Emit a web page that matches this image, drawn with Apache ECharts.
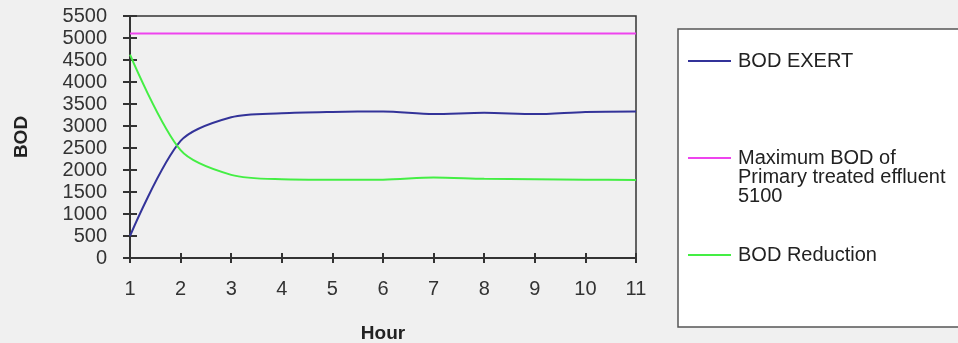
<!DOCTYPE html>
<html>
<head>
<meta charset="utf-8">
<script src="https://cdn.jsdelivr.net/npm/echarts@6/dist/echarts.min.js"></script>
<style>
html,body{margin:0;padding:0;background:#f0f0f0;}
#chart{width:958px;height:343px;}
</style>
</head>
<body>
<div id="chart"></div>
<script>
const hours = ['1','2','3','4','5','6','7','8','9','10','11'];
const bodExert = [500, 2660, 3200, 3290, 3320, 3330, 3270, 3300, 3270, 3320, 3330];
const maxBod = [5100, 5100, 5100, 5100, 5100, 5100, 5100, 5100, 5100, 5100, 5100];
const bodReduction = [4620, 2450, 1890, 1790, 1780, 1780, 1830, 1800, 1790, 1780, 1770];
const seriesNames = ['BOD EXERT', 'Maximum BOD of\nPrimary treated effluent\n5100', 'BOD Reduction'];
const yTicks = {min: 0, max: 5500, interval: 500};

const FONT = '"Liberation Sans", Arial, sans-serif';
const chart = echarts.init(document.getElementById('chart'), null, {renderer: 'canvas'});
const axisLineStyle = {color: '#333', width: 2};

chart.setOption({
  backgroundColor: '#f0f0f0',
  animation: false,
  grid: {left: 130, right: 322, top: 16, bottom: 85, containLabel: false, outerBoundsMode: 'none',
         show: true, borderColor: '#333', borderWidth: 1.5, backgroundColor: 'transparent'},
  legend: {
    orient: 'vertical',
    left: 678,
    top: 29,
    backgroundColor: '#ffffff',
    borderColor: '#555',
    borderWidth: 1.5,
    borderRadius: 0,
    padding: [22, 60, 62, 10],
    itemGap: 39,
    itemWidth: 43,
    itemHeight: 2,
    icon: 'rect',
    selectedMode: false,
    formatter: function (name) {
      return name === seriesNames[1] ? '\n\n' + name : name;
    },
    textStyle: {fontFamily: FONT, fontSize: 20, color: '#222', lineHeight: 19, padding: [0, 0, 0, 2]},
    data: seriesNames.map(function (n) { return {name: n}; })
  },
  xAxis: [{
    type: 'category',
    data: hours,
    boundaryGap: false,
    position: 'bottom',
    axisLine: {show: true, lineStyle: axisLineStyle},
    axisTick: {show: true, inside: false, length: 5, lineStyle: {color: '#333', width: 2}},
    axisLabel: {margin: 21, fontFamily: FONT, fontSize: 20, color: '#333'},
    splitLine: {show: false},
    name: 'Hour',
    nameLocation: 'middle',
    nameGap: 66,
    nameTextStyle: {fontFamily: FONT, fontSize: 19, fontWeight: 'bold', color: '#222'}
  }, {
    type: 'category',
    data: hours,
    boundaryGap: false,
    position: 'bottom',
    axisLine: {show: false},
    axisTick: {show: true, inside: true, length: 5, lineStyle: {color: '#333', width: 2}},
    axisLabel: {show: false},
    splitLine: {show: false}
  }],
  yAxis: [{
    type: 'value',
    min: yTicks.min, max: yTicks.max, interval: yTicks.interval,
    position: 'left',
    axisLine: {show: true, lineStyle: axisLineStyle},
    axisTick: {show: true, inside: false, length: 7, lineStyle: {color: '#333', width: 2}},
    axisLabel: {margin: 23, fontFamily: FONT, fontSize: 20, color: '#333', formatter: function (v) { return String(v); }},
    splitLine: {show: false},
    name: 'BOD',
    nameLocation: 'middle',
    nameGap: 99,
    nameRotate: 90,
    nameTextStyle: {fontFamily: FONT, fontSize: 19, fontWeight: 'bold', color: '#222'}
  }, {
    type: 'value',
    min: yTicks.min, max: yTicks.max, interval: yTicks.interval,
    position: 'left',
    axisLine: {show: false},
    axisTick: {show: true, inside: true, length: 7, lineStyle: {color: '#333', width: 2}},
    axisLabel: {show: false},
    splitLine: {show: false}
  }],
  series: [
    {name: seriesNames[0], type: 'line', data: bodExert, smooth: 0.3, symbol: 'none', color: '#333399', lineStyle: {width: 2, color: '#333399'}},
    {name: seriesNames[1], type: 'line', data: maxBod, smooth: false, symbol: 'none', color: '#ee44ee', lineStyle: {width: 2, color: '#ee44ee'}},
    {name: seriesNames[2], type: 'line', data: bodReduction, smooth: 0.3, symbol: 'none', color: '#44ee44', lineStyle: {width: 2, color: '#44ee44'}}
  ]
});
</script>
</body>
</html>
